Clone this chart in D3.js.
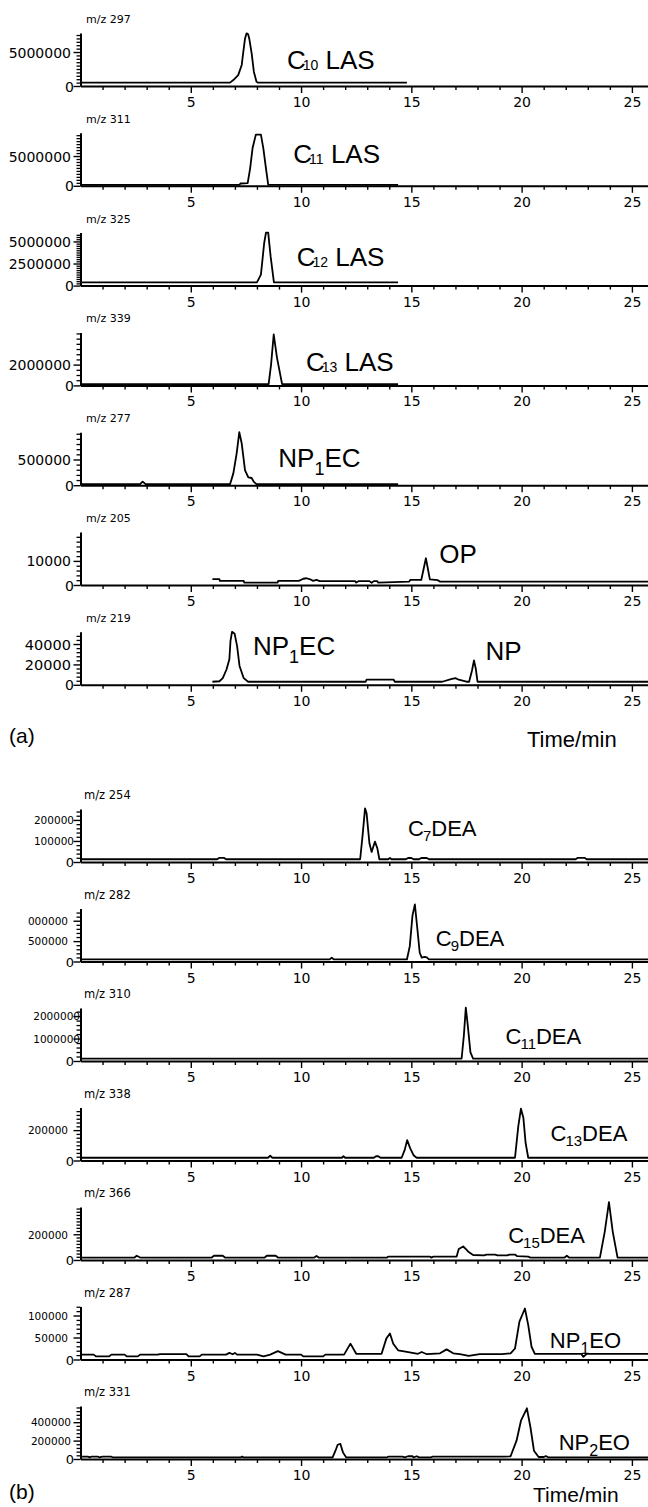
<!DOCTYPE html>
<html>
<head>
<meta charset="utf-8">
<script src="https://cdn.jsdelivr.net/npm/d3@7"></script>
<style>
body { margin: 0; background: #fff; }
svg { display: block; }
.trace { fill: none; stroke: #000; stroke-width: 1.8; stroke-linejoin: round; }
.axis path, .axis line { stroke: #000; }
.axis text { font-family: "DejaVu Sans", sans-serif; fill: #000; }
.lbl { font-family: "Liberation Sans", Arial, sans-serif; fill: #000; white-space: pre; }
</style>
</head>
<body>
<script>
// ---- data (time in min, intensity in counts) ----
var timeMax = 25.73;
var xMajorTicks = [5, 10, 15, 20, 25];

// panel (a)
var mzA = ["m/z 297", "m/z 311", "m/z 325", "m/z 339", "m/z 277", "m/z 205", "m/z 219"];
var yMaxA = [7.8e6, 8.9e6, 6.0e6, 5.1e6, 1.03e6, 22000, 52000];
var yTicksA = [[0, 5e6], [0, 5e6], [0, 2.5e6, 5e6], [0, 2e6], [0, 5e5], [0, 1e4], [0, 2e4, 4e4]];
var yTickLabelsA = [["0", "5000000"], ["0", "5000000"], ["0", "2500000", "5000000"], ["0", "2000000"],
                    ["0", "500000"], ["0", "10000"], ["0", "20000", "40000"]];
var yMinorA = [5e5, 5e5, 2.5e5, 5e5, 1e5, 2000, 4000];

var mz297 = [[0,490000],[6.78,490000],[6.93,880000],[7.15,1600000],[7.31,3100000],[7.38,5000000],[7.46,7000000],
  [7.53,7750000],[7.6,7600000],[7.65,7000000],[7.76,4800000],[7.86,2100000],[7.98,630000],[8.05,490000],[14.8,490000]];
var mz311 = [[0,170000],[7.2,170000],[7.26,390000],[7.58,450000],[7.69,2900000],[7.8,6300000],[7.95,8600000],
  [8.18,8600000],[8.29,6300000],[8.41,2900000],[8.51,200000],[14.4,170000]];
var mz325 = [[0,375000],[8.0,375000],[8.18,1250000],[8.22,2200000],[8.33,4850000],[8.41,6000000],[8.51,6000000],
  [8.62,3300000],[8.77,375000],[14.4,375000]];
var mz339 = [[0,130000],[8.53,130000],[8.64,2000000],[8.76,4900000],[8.91,2650000],[9.14,130000],[14.4,130000]];
var mz277 = [[0,20000],[2.7,20000],[2.82,70000],[2.95,20000],[6.78,20000],[6.93,230000],[7.08,620000],[7.2,1030000],
  [7.31,810000],[7.46,290000],[7.61,150000],[7.76,140000],[7.86,65000],[7.98,20000],[14.4,20000]];
var mz205 = [[5.98,2400],[6.3,2400],[6.32,1700],[7.4,1700],[7.42,1000],[8.94,1000],[8.96,1700],[9.9,1700],[10.1,2600],
  [10.25,2800],[10.45,2200],[10.55,1700],[10.7,2100],[10.85,1600],[12.45,1600],[12.5,1000],[12.6,1600],[13.1,1600],
  [13.2,900],[13.3,1600],[13.45,1600],[13.5,1000],[14.9,1400],[14.95,2100],[15.45,2100],[15.66,11100],[15.84,2300],
  [16.2,2000],[16.3,1400],[25.73,1400]];
var mz219 = [[5.98,3000],[6.3,3500],[6.45,6500],[6.62,15000],[6.75,25000],[6.8,43000],[6.87,52000],[6.99,50000],
  [7.1,38000],[7.21,18500],[7.4,6500],[7.6,3000],[12.93,3000],[12.97,5000],[14.2,5000],[14.25,3000],[16.4,3000],
  [16.8,5500],[17.0,6500],[17.15,5000],[17.5,3000],[17.62,3000],[17.75,14000],[17.84,24000],[17.92,16000],
  [18.0,3000],[25.73,3000]];

// panel (b)
var mzB = ["m/z 254", "m/z 282", "m/z 310", "m/z 338", "m/z 366", "m/z 287", "m/z 331"];
var yMaxB = [252000, 1.3e6, 2.36e6, 349000, 412000, 120500, 576000];
var yTicksB = [[0, 1e5, 2e5], [0, 5e5, 1e6], [0, 1e6, 2e6], [0, 2e5], [0, 2e5], [0, 5e4, 1e5], [0, 2e5, 4e5]];
var yTickLabelsB = [["0", "100000", "200000"], ["0", "500000", "000000"], ["0", "1000000", "2000000"],
                    ["0", "200000"], ["0", "200000"], ["0", "50000", "100000"], ["0", "200000", "400000"]];
var yMinorB = [20000, 100000, 200000, 25000, 25000, 10000, 40000];

var mz254 = [[0,13000],[6.2,13000],[6.3,20000],[6.5,20000],[6.6,13000],[12.68,13000],[12.8,137000],[12.9,255000],
  [12.97,232000],[13.1,89000],[13.2,48000],[13.35,97000],[13.46,65000],[13.55,13000],[13.95,13000],[14.03,19000],
  [14.1,13000],[14.75,13000],[14.85,19000],[15.0,19000],[15.1,13000],[15.35,13000],[15.45,19000],[15.7,19000],
  [15.8,13000],[22.45,13000],[22.55,20000],[22.85,20000],[22.95,13000],[25.73,13000]];
var mz282 = [[0,50000],[11.3,50000],[11.39,95000],[11.48,50000],[14.8,50000],[14.93,376000],[15.05,1120000],
  [15.16,1400000],[15.26,870000],[15.38,214000],[15.47,95000],[15.6,115000],[15.7,100000],[15.8,50000],[25.73,50000]];
var mz310 = [[0,110000],[17.28,110000],[17.38,1120000],[17.47,2380000],[17.56,1570000],[17.68,386000],[17.8,110000],
  [25.73,110000]];
var mz338 = [[0,18000],[8.5,18000],[8.6,31000],[8.7,18000],[11.85,18000],[11.92,28000],[12.0,18000],[13.3,18000],
  [13.4,28000],[13.5,28000],[13.6,18000],[14.56,18000],[14.7,70000],[14.81,134000],[14.95,80000],[15.1,35000],
  [15.24,18000],[19.7,18000],[19.85,226000],[19.97,341000],[20.08,281000],[20.18,117000],[20.3,18000],[25.73,18000]];
var mz366 = [[0,19000],[2.45,19000],[2.55,33000],[2.7,19000],[5.95,19000],[6.05,33000],[6.45,33000],[6.55,19000],
  [8.35,19000],[8.45,33000],[8.85,33000],[8.95,19000],[10.6,19000],[10.7,31000],[10.8,19000],[13.9,19000],
  [13.95,26000],[15.85,26000],[15.9,19000],[16.0,26000],[17.05,26000],[17.15,85000],[17.35,105000],[17.5,80000],
  [17.6,62000],[17.8,39000],[18.3,36000],[18.4,42000],[18.8,42000],[18.9,36000],[19.35,36000],[19.45,42000],
  [19.7,42000],[19.8,30000],[20.3,26000],[20.4,19000],[21.95,19000],[22.05,33000],[22.15,19000],[23.55,19000],
  [23.77,221000],[23.96,450000],[24.13,221000],[24.35,19000],[25.73,19000]];
var mz287 = [[0,11000],[0.6,11000],[0.7,7000],[1.3,7000],[1.4,11000],[2.0,11000],[2.1,7000],[2.6,7000],[2.7,11000],
  [3.5,11000],[3.6,12000],[4.8,12000],[4.9,7000],[5.4,7000],[5.5,11000],[6.6,11000],[6.75,15000],[6.9,12000],
  [7.0,15000],[7.1,11000],[8.0,11000],[8.3,7000],[8.6,11000],[8.95,19000],[9.3,11000],[10.0,11000],[10.1,7000],
  [11.0,7000],[11.1,11000],[11.95,11000],[12.24,36000],[12.5,13000],[13.65,13000],[13.87,48000],[14.03,59000],
  [14.18,36000],[14.4,21000],[14.8,17500],[15.3,13000],[15.47,17000],[15.7,12000],[16.3,14000],[16.6,23000],
  [16.9,14000],[17.2,12000],[17.6,8000],[18.1,12000],[19.1,12000],[19.5,14000],[19.7,25000],[19.9,86000],
  [20.15,116000],[20.3,78000],[20.45,29000],[20.6,13000],[22.7,13000],[22.8,6000],[22.95,13000],[25.73,13000]];
var mz331 = [[0,18000],[0.05,25000],[0.35,25000],[0.4,18000],[0.5,25000],[0.8,25000],[0.85,18000],[1.0,25000],
  [1.4,25000],[1.45,18000],[7.28,18000],[7.33,26000],[7.38,18000],[11.43,18000],[11.56,90000],[11.66,155000],
  [11.78,165000],[11.9,72000],[12.04,18000],[13.9,18000],[13.95,25000],[14.6,25000],[14.7,18000],[14.85,30000],
  [15.05,30000],[15.1,18000],[15.25,30000],[15.35,18000],[15.9,18000],[15.95,25000],[19.2,25000],[19.5,30000],
  [19.77,199000],[19.97,416000],[20.24,551000],[20.4,345000],[20.56,90000],[20.77,22000],[21.0,22000],
  [21.1,32000],[21.2,18000],[25.73,18000]];

var tracesA = [mz297, mz311, mz325, mz339, mz277, mz205, mz219];
var tracesB = [mz254, mz282, mz310, mz338, mz366, mz287, mz331];

// compound names: [main, subscript, rest], anchored at a retention time
var namesA = [["C", "10", " LAS"], ["C", "11", " LAS"], ["C", "12", " LAS"], ["C", "13", " LAS"],
              ["NP", "1", "EC"], ["OP", "", ""], ["NP", "1", "EC"], ["NP", "", ""]];
var nameTimesA = [9.36, 9.65, 9.8, 10.22, 8.97, 16.27, 7.82, 18.36];
var namesB = [["C", "7", "DEA"], ["C", "9", "DEA"], ["C", "11", "DEA"], ["C", "13", "DEA"],
              ["C", "15", "DEA"], ["NP", "1", "EO"], ["NP", "2", "EO"]];
var nameTimesB = [14.85, 16.11, 19.27, 21.31, 19.39, 21.28, 21.68];

// ---- layout ----
var width = 648, height = 1507;
var axisH = 53;

var svg = d3.select("body").append("svg")
    .attr("width", width)
    .attr("height", height);

var x = d3.scaleLinear().domain([0, timeMax]).range([80.5, 648]);
var xMinorTicks = d3.range(1, 26).filter(function(d) { return d % 5 !== 0; });

// where each name sits (panel, lift above the baseline axis)
var nameLayoutA = [[0, 16.7], [1, 23.3], [2, 19.3], [3, 14], [4, 18.3], [5, 21.7], [6, 30], [6, 25]];
var nameLayoutB = [[0, 26], [1, 16], [2, 17], [3, 19.3], [4, 17], [5, 12], [6, 9]];
var labelEndB = [74, 68, 80, 68, 68, 68, 71];

function drawPanel(axisY, yMax, ticks, tickLabels, minor, mz, trace, opt) {
    var g = svg.append("g");
    var y = d3.scaleLinear().domain([0, yMax]).range([axisY, axisY - axisH]);

    // x axis: minor then major ticks
    g.append("g").attr("class", "axis")
        .attr("transform", "translate(0," + axisY + ")")
        .call(d3.axisBottom(x).tickValues(xMinorTicks).tickSize(4).tickSizeOuter(0).tickFormat(""))
        .call(function(s) { s.select(".domain").attr("stroke-width", 2); s.selectAll("line").attr("stroke-width", 1.4); });
    g.append("g").attr("class", "axis")
        .attr("transform", "translate(0," + axisY + ")")
        .call(d3.axisBottom(x).tickValues(xMajorTicks).tickSize(7).tickSizeOuter(0).tickFormat(d3.format("d")))
        .call(function(s) {
            s.select(".domain").remove();
            s.selectAll("line").attr("stroke-width", 1.4);
            s.selectAll("text").attr("y", 21).attr("dy", 0).attr("font-size", 14);
        });

    // y axis: minor then labelled ticks
    var minorVals = d3.range(minor, yMax, minor).filter(function(v) {
        return ticks.every(function(t) { return Math.abs(t - v) > minor / 10; });
    });
    g.append("g").attr("class", "axis")
        .attr("transform", "translate(" + x(0) + ",0)")
        .call(d3.axisLeft(y).tickValues(minorVals).tickSize(4).tickSizeOuter(0).tickFormat(""))
        .call(function(s) { s.select(".domain").attr("stroke-width", 2); s.selectAll("line").attr("stroke-width", 1.3); });
    g.append("g").attr("class", "axis")
        .attr("transform", "translate(" + x(0) + ",0)")
        .call(d3.axisLeft(y).tickValues(ticks).tickSize(7).tickSizeOuter(0)
              .tickFormat(function(d, i) { return tickLabels[i]; }))
        .call(function(s) {
            s.select(".domain").remove();
            s.selectAll("line").attr("stroke-width", 1.4);
            s.selectAll("text")
                .attr("x", function(d, i) { return i === 0 ? opt.zeroEnd - x(0) : opt.labelEnd - x(0); })
                .attr("dy", "0.36em")
                .attr("font-size", function(d, i) { return i === 0 ? opt.zeroSize : opt.tickSize; });
        });

    // m/z caption
    g.append("text").attr("class", "axis")
        .attr("x", opt.mzX).attr("y", axisY - 63)
        .attr("font-family", "DejaVu Sans").attr("font-size", opt.mzSize)
        .text(mz);

    // trace
    var line = d3.line().x(function(d) { return x(d[0]); }).y(function(d) { return y(d[1]); });
    g.append("path").attr("class", "trace").datum(trace).attr("d", line);
}

function drawName(axisY, lift, t, parts, st) {
    var isNP = parts[0] === "NP";
    var subSize = isNP ? st.npSub : st.cSub;
    var subDy = isNP ? st.npDy : st.cDy;
    var txt = svg.append("text").attr("class", "lbl")
        .attr("x", x(t)).attr("y", axisY - lift)
        .attr("font-size", st.size);
    txt.append("tspan").text(parts[0]);
    if (parts[1]) {
        txt.append("tspan").attr("dx", isNP ? 0 : st.cDx).attr("dy", subDy)
            .attr("font-size", subSize).text(parts[1]);
        txt.append("tspan").attr("dy", -subDy).text(parts[2]);
    }
}

// ---- panel (a) ----
var axisYA = d3.range(7).map(function(i) { return 86 + 99.8 * i; });
axisYA.forEach(function(ay, i) {
    drawPanel(ay, yMaxA[i], yTicksA[i], yTickLabelsA[i], yMinorA[i], mzA[i], tracesA[i],
        { labelEnd: 71, zeroEnd: 74, tickSize: i === 6 ? 14.5 : 14, zeroSize: 14, mzX: 86, mzSize: 11 });
});
namesA.forEach(function(p, k) {
    var lay = nameLayoutA[k];
    drawName(axisYA[lay[0]], lay[1], nameTimesA[k], p,
        { size: 26, cSub: 14, cDy: 1, cDx: -3, npSub: 18, npDy: 8 });
});

// ---- panel (b) ----
var axisYB = d3.range(7).map(function(i) { return 862 + 99.5 * i; });
axisYB.forEach(function(ay, i) {
    drawPanel(ay, yMaxB[i], yTicksB[i], yTickLabelsB[i], yMinorB[i], mzB[i], tracesB[i],
        { labelEnd: labelEndB[i], zeroEnd: 74, tickSize: 10.5, zeroSize: 13, mzX: 84, mzSize: 11.5 });
});
namesB.forEach(function(p, k) {
    var lay = nameLayoutB[k];
    drawName(axisYB[lay[0]], lay[1], nameTimesB[k], p,
        { size: 22, cSub: 15, cDy: 5, cDx: -1, npSub: 16, npDy: 6 });
});

// ---- panel letters and time axis titles ----
svg.append("text").attr("class", "lbl").attr("x", 9).attr("y", 743).attr("font-size", 21).text("(a)");
svg.append("text").attr("class", "lbl").attr("x", 527).attr("y", 747).attr("font-size", 22).text("Time/min");
svg.append("text").attr("class", "lbl").attr("x", 9).attr("y", 1499).attr("font-size", 21).text("(b)");
svg.append("text").attr("class", "lbl").attr("x", 533).attr("y", 1502).attr("font-size", 21).text("Time/min");
</script>
</body>
</html>
